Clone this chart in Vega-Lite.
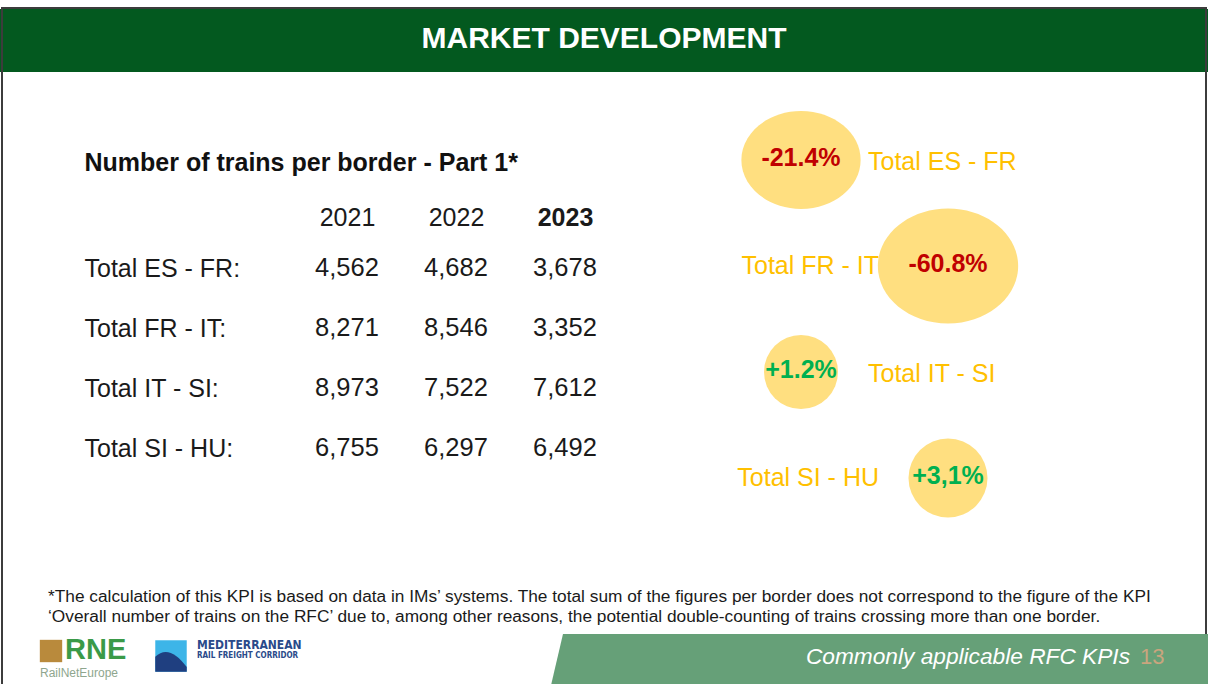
{
  "$schema": "https://vega.github.io/schema/vega-lite/v6.json",
  "width": 1208,
  "height": 684,
  "autosize": {"type": "none"},
  "padding": 0,
  "background": "white",
  "config": {"view": {"stroke": null}, "font": "Liberation Sans"},
  "datasets": {
    "slide": [{"title": "MARKET DEVELOPMENT", "footer": "Commonly applicable RFC KPIs", "page": "13"}],
    "trains": [
      {"border": "Total ES - FR", "year": "2021", "trains": 4562},
      {"border": "Total ES - FR", "year": "2022", "trains": 4682},
      {"border": "Total ES - FR", "year": "2023", "trains": 3678},
      {"border": "Total FR - IT", "year": "2021", "trains": 8271},
      {"border": "Total FR - IT", "year": "2022", "trains": 8546},
      {"border": "Total FR - IT", "year": "2023", "trains": 3352},
      {"border": "Total IT - SI", "year": "2021", "trains": 8973},
      {"border": "Total IT - SI", "year": "2022", "trains": 7522},
      {"border": "Total IT - SI", "year": "2023", "trains": 7612},
      {"border": "Total SI - HU", "year": "2021", "trains": 6755},
      {"border": "Total SI - HU", "year": "2022", "trains": 6297},
      {"border": "Total SI - HU", "year": "2023", "trains": 6492}
    ],
    "change": [
      {"border": "Total ES - FR", "change": -21.4, "label": "-21.4%"},
      {"border": "Total FR - IT", "change": -60.8, "label": "-60.8%"},
      {"border": "Total IT - SI", "change": 1.2, "label": "+1.2%"},
      {"border": "Total SI - HU", "change": 3.1, "label": "+3,1%"}
    ],
    "footnote": [
      {"line": "1", "text": "*The calculation of this KPI is based on data in IMs’ systems. The total sum of the figures per border does not correspond to the figure of the KPI"},
      {"line": "2", "text": "‘Overall number of trains on the RFC’ due to, among other reasons, the potential double-counting of trains crossing more than one border."}
    ],
    "rne": [{"mark": "RNE", "name": "RailNetEurope"}],
    "medrfc": [{"name": "MEDITERRANEAN", "sub": "RAIL FREIGHT CORRIDOR"}]
  },
  "resolve": {
    "scale": {"x": "independent", "y": "independent", "size": "independent", "shape": "independent", "color": "independent"},
    "axis": {"x": "independent", "y": "independent"}
  },
  "layer": [
    {
      "data": {"name": "slide"},
      "encoding": {
        "y": {"field": "title", "type": "nominal", "scale": {"type": "band", "range": [9, 72], "paddingInner": 0, "paddingOuter": 0}, "axis": null}
      },
      "layer": [
        {"mark": {"type": "rect", "color": "#03591F"}},
        {"mark": {"type": "text", "color": "white", "fontSize": 30, "fontWeight": "bold", "font": "Liberation Sans", "dy": -2}, "encoding": {"text": {"field": "title"}}}
      ]
    },
    {
      "data": {"name": "slide"},
      "mark": {"type": "rect", "filled": false, "stroke": "#3c3c3c", "strokeWidth": 2},
      "encoding": {
        "x": {"field": "title", "type": "nominal", "scale": {"type": "band", "range": [2, 1206], "paddingInner": 0, "paddingOuter": 0}, "axis": null},
        "y": {"field": "title", "type": "nominal", "scale": {"type": "band", "range": [8, 700], "paddingInner": 0, "paddingOuter": 0}, "axis": null}
      }
    },
    {
      "data": {"name": "trains"},
      "mark": {"type": "text", "fontSize": 25.5, "color": "#1a1a1a", "font": "Liberation Sans"},
      "encoding": {
        "x": {
          "field": "year", "type": "ordinal",
          "scale": {"type": "point", "range": [347, 565], "padding": 0},
          "axis": {
            "orient": "top", "offset": -217, "domain": false, "ticks": false, "grid": false,
            "labelPadding": 0, "labelAngle": 0, "labelBaseline": "middle", "labelOverlap": false,
            "labelFontSize": 25, "labelFont": "Liberation Sans", "labelColor": "#1a1a1a",
            "labelFontWeight": {"condition": {"test": "datum.value == '2023'", "value": "bold"}, "value": "normal"},
            "title": "Number of trains per border - Part 1*",
            "titleFontSize": 25, "titleFontWeight": "bold", "titleFont": "Liberation Sans", "titleColor": "#111111",
            "titleX": 84, "titleY": -55, "titleAlign": "left", "titleBaseline": "middle", "titleAngle": 0
          }
        },
        "y": {
          "field": "border", "type": "nominal", "sort": null,
          "scale": {"type": "point", "range": [268, 448], "padding": 0},
          "axis": {
            "orient": "left", "offset": -84, "domain": false, "ticks": false, "grid": false,
            "labelPadding": 0, "labelAlign": "left", "labelBaseline": "middle", "labelOverlap": false,
            "labelFontSize": 25, "labelFont": "Liberation Sans", "labelColor": "#1a1a1a", "labelLimit": 400,
            "labelExpr": "datum.label + ':'", "title": null
          }
        },
        "text": {"field": "trains", "type": "quantitative", "format": ","}
      }
    },
    {
      "data": {"name": "change"},
      "transform": [
        {"window": [{"op": "row_number", "as": "n"}]},
        {"calculate": "datum.n % 2 == 1 ? 'bubble first' : 'label first'", "as": "arrangement"},
        {"calculate": "abs(datum.change)", "as": "magnitude"},
        {"calculate": "datum.change < 0 ? 'decline' : 'growth'", "as": "direction"}
      ],
      "encoding": {
        "y": {"field": "border", "type": "nominal", "sort": null, "scale": {"type": "point", "range": [160, 478], "padding": 0}, "axis": null}
      },
      "layer": [
        {
          "encoding": {
            "x": {"field": "arrangement", "type": "nominal", "scale": {"type": "point", "domain": ["bubble first", "label first"], "range": [801, 948], "padding": 0}, "axis": null}
          },
          "layer": [
            {
              "mark": {"type": "point", "filled": true, "opacity": 1, "color": "#FFDF80", "strokeWidth": 0},
              "encoding": {
                "size": {"field": "magnitude", "type": "quantitative", "scale": {"type": "sqrt", "zero": false, "domain": [1.2, 60.8], "range": [5476, 13225]}, "legend": null},
                "shape": {"field": "direction", "type": "nominal", "scale": {"domain": ["decline", "growth"], "range": ["M-1.22,0A1.22,1,0,1,1,1.22,0A1.22,1,0,1,1,-1.22,0Z", "circle"]}, "legend": null}
              }
            },
            {
              "mark": {"type": "text", "fontSize": 25, "fontWeight": "bold", "font": "Liberation Sans", "dy": -2},
              "encoding": {
                "text": {"field": "label"},
                "color": {"condition": {"test": "datum.change < 0", "value": "#C00000"}, "value": "#00B050"}
              }
            }
          ]
        },
        {
          "encoding": {
            "x": {"field": "arrangement", "type": "nominal", "scale": {"type": "point", "domain": ["bubble first", "label first"], "range": [868, 879], "padding": 0}, "axis": null}
          },
          "layer": [
            {
              "transform": [{"filter": "datum.arrangement == 'bubble first'"}],
              "mark": {"type": "text", "align": "left", "fontSize": 25, "color": "#FFC000", "font": "Liberation Sans", "dy": 2},
              "encoding": {"text": {"field": "border"}}
            },
            {
              "transform": [{"filter": "datum.arrangement == 'label first'"}],
              "mark": {"type": "text", "align": "right", "fontSize": 25, "color": "#FFC000", "font": "Liberation Sans"},
              "encoding": {"text": {"field": "border"}}
            }
          ],
          "resolve": {"scale": {"x": "shared"}}
        }
      ],
      "resolve": {"scale": {"x": "independent"}}
    },
    {
      "data": {"name": "footnote"},
      "mark": {"type": "text", "align": "left", "fontSize": 17.3, "color": "#1a1a1a", "font": "Liberation Sans"},
      "encoding": {
        "x": {"field": "text", "type": "nominal", "scale": {"type": "point", "range": [48, 48], "padding": 0}, "axis": null},
        "y": {"field": "line", "type": "ordinal", "scale": {"type": "point", "range": [597, 617], "padding": 0}, "axis": null},
        "text": {"field": "text"}
      }
    },
    {
      "data": {"name": "slide"},
      "mark": {"type": "point", "filled": true, "opacity": 1, "color": "#66A078", "strokeWidth": 0, "size": 432964, "shape": "M-0.9605,-0.079L1,-0.079L1,0.09L-1,0.09Z"},
      "encoding": {
        "x": {"field": "footer", "type": "nominal", "scale": {"type": "point", "range": [879, 879], "padding": 0}, "axis": null},
        "y": {"field": "footer", "type": "nominal", "scale": {"type": "point", "range": [660, 660], "padding": 0}, "axis": null}
      }
    },
    {
      "data": {"name": "slide"},
      "mark": {"type": "text", "align": "right", "fontSize": 22.7, "fontStyle": "italic", "color": "white", "font": "Liberation Sans"},
      "encoding": {
        "x": {"field": "footer", "type": "nominal", "scale": {"type": "point", "range": [1130, 1130], "padding": 0}, "axis": null},
        "y": {"field": "footer", "type": "nominal", "scale": {"type": "point", "range": [657, 657], "padding": 0}, "axis": null},
        "text": {"field": "footer"}
      }
    },
    {
      "data": {"name": "slide"},
      "mark": {"type": "text", "align": "left", "fontSize": 22, "color": "#C9A57E", "font": "Liberation Sans"},
      "encoding": {
        "x": {"field": "page", "type": "nominal", "scale": {"type": "point", "range": [1140, 1140], "padding": 0}, "axis": null},
        "y": {"field": "page", "type": "nominal", "scale": {"type": "point", "range": [657, 657], "padding": 0}, "axis": null},
        "text": {"field": "page"}
      }
    },
    {
      "data": {"name": "rne"},
      "mark": {"type": "point", "filled": true, "opacity": 1, "color": "#B98A3C", "strokeWidth": 0, "shape": "square", "size": 500},
      "encoding": {
        "x": {"field": "mark", "type": "nominal", "scale": {"type": "point", "range": [51, 51], "padding": 0}, "axis": null},
        "y": {"field": "mark", "type": "nominal", "scale": {"type": "point", "range": [651, 651], "padding": 0}, "axis": null}
      }
    },
    {
      "data": {"name": "rne"},
      "mark": {"type": "text", "align": "left", "fontSize": 29, "fontWeight": "bold", "color": "#3A9A48", "font": "Liberation Sans"},
      "encoding": {
        "x": {"field": "mark", "type": "nominal", "scale": {"type": "point", "range": [65, 65], "padding": 0}, "axis": null},
        "y": {"field": "mark", "type": "nominal", "scale": {"type": "point", "range": [650, 650], "padding": 0}, "axis": null},
        "text": {"field": "mark"}
      }
    },
    {
      "data": {"name": "rne"},
      "mark": {"type": "text", "align": "left", "fontSize": 12, "color": "#8EA68E", "font": "Liberation Sans"},
      "encoding": {
        "x": {"field": "name", "type": "nominal", "scale": {"type": "point", "range": [40, 40], "padding": 0}, "axis": null},
        "y": {"field": "name", "type": "nominal", "scale": {"type": "point", "range": [673, 673], "padding": 0}, "axis": null},
        "text": {"field": "name"}
      }
    },
    {
      "data": {"name": "medrfc"},
      "encoding": {
        "x": {"field": "name", "type": "nominal", "scale": {"type": "point", "range": [171, 171], "padding": 0}, "axis": null},
        "y": {"field": "name", "type": "nominal", "scale": {"type": "point", "range": [656, 656], "padding": 0}, "axis": null}
      },
      "layer": [
        {"mark": {"type": "point", "filled": true, "opacity": 1, "color": "#3DB5E8", "strokeWidth": 0, "shape": "square", "size": 990}},
        {"mark": {"type": "point", "filled": true, "opacity": 1, "color": "#1F3F80", "strokeWidth": 0, "shape": "M-1,0.05C-0.4,-0.55,0.3,-0.25,1,0.7L1,1L-1,1Z", "size": 990}}
      ]
    },
    {
      "data": {"name": "medrfc"},
      "mark": {"type": "text", "align": "left", "fontSize": 12, "fontWeight": "bold", "color": "#2A4A8A", "font": "Liberation Sans Narrow, DejaVu Sans Condensed, Liberation Sans"},
      "encoding": {
        "x": {"field": "name", "type": "nominal", "scale": {"type": "point", "range": [197, 197], "padding": 0}, "axis": null},
        "y": {"field": "name", "type": "nominal", "scale": {"type": "point", "range": [645, 645], "padding": 0}, "axis": null},
        "text": {"field": "name"}
      }
    },
    {
      "data": {"name": "medrfc"},
      "mark": {"type": "text", "align": "left", "fontSize": 8, "fontWeight": "bold", "color": "#2A4A8A", "font": "Liberation Sans Narrow, DejaVu Sans Condensed, Liberation Sans"},
      "encoding": {
        "x": {"field": "sub", "type": "nominal", "scale": {"type": "point", "range": [197, 197], "padding": 0}, "axis": null},
        "y": {"field": "sub", "type": "nominal", "scale": {"type": "point", "range": [656, 656], "padding": 0}, "axis": null},
        "text": {"field": "sub"}
      }
    }
  ]
}
